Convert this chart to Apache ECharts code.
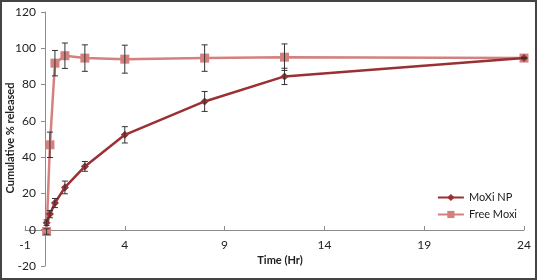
<!DOCTYPE html>
<html>
<head>
<meta charset="utf-8">
<script src="https://cdn.jsdelivr.net/npm/echarts@6/dist/echarts.min.js"></script>
<style>
  html, body { margin: 0; padding: 0; background: #fff; }
  #chart { width: 537px; height: 280px; }
</style>
</head>
<body>
<div id="chart"></div>
<script>
// time points (hr)
var timeHr = [0.083, 0.25, 0.5, 1, 2, 4, 8, 12, 24];
// MoXi NP
var moxiNP = [3.9, 8.6, 14.7, 23.3, 34.9, 52.3, 70.7, 84.5, 94.6];
var moxiNPErr = [1.5, 2, 2.5, 3.5, 2.7, 4.5, 5.5, 4.5, 0];
// Free Moxi
var freeMoxi = [-1, 46.8, 91.8, 95.9, 94.6, 94, 94.6, 95.1, 94.6];
var freeMoxiErr = [1.5, 7, 7, 7, 7.3, 7.7, 7.3, 7.3, 0];

var colNP = '#9a3034';
var colFree = '#d4807f';
var fontFam = 'Lato, "Liberation Sans", sans-serif';

const pairs = (xs, ys) => xs.map((x, i) => [x, ys[i]]);
const errData = (xs, ys, es) => xs.map((x, i) => [x, ys[i] - es[i], ys[i] + es[i]]);

// error bars, drawn as a custom series
const errRender = (params, api) => {
  const lo = api.coord([api.value(0), api.value(1)]);
  const hi = api.coord([api.value(0), api.value(2)]);
  const w = 3;
  const st = { stroke: '#333', lineWidth: 1 };
  return {
    type: 'group',
    children: [
      { type: 'line', shape: { x1: lo[0], y1: lo[1], x2: hi[0], y2: hi[1] }, style: st },
      { type: 'line', shape: { x1: lo[0] - w, y1: lo[1], x2: lo[0] + w, y2: lo[1] }, style: st },
      { type: 'line', shape: { x1: hi[0] - w, y1: hi[1], x2: hi[0] + w, y2: hi[1] }, style: st }
    ]
  };
};

var chart = echarts.init(document.getElementById('chart'), null, { renderer: 'canvas' });

chart.setOption({
  animation: false,
  textStyle: { fontFamily: fontFam },
  grid: { left: 25, right: 13, top: 12, bottom: 14, containLabel: false, outerBoundsMode: 'none' },
  graphic: [
    {
      type: 'rect',
      shape: { x: 1, y: 1, width: 535, height: 278 },
      style: { fill: 'none', stroke: '#444', lineWidth: 2 },
      silent: true
    },
    {
      type: 'text',
      x: 10, y: 138,
      rotation: Math.PI / 2,
      style: {
        text: 'Cumulative % released',
        font: 'bold 11px ' + fontFam,
        fill: '#222',
        align: 'center',
        verticalAlign: 'middle'
      }
    },
    {
      type: 'text',
      x: 280, y: 260,
      style: {
        text: 'Time (Hr)',
        font: 'bold 11px ' + fontFam,
        fill: '#222',
        align: 'center',
        verticalAlign: 'middle'
      }
    }
  ],
  legend: {
    orient: 'vertical',
    right: 15,
    top: 187,
    itemWidth: 26,
    itemHeight: 9,
    itemGap: 6,
    textStyle: { fontSize: 11, color: '#222', fontFamily: fontFam },
    data: ['MoXi NP', 'Free Moxi']
  },
  xAxis: {
    type: 'value',
    min: -1,
    max: 24,
    interval: 5,
    // horizontal axis sits at y = 0, about 36px above the grid bottom
    offset: -36,
    axisLine: { onZero: false, lineStyle: { color: '#8c8c8c', width: 1 } },
    axisTick: { inside: true, length: 4, lineStyle: { color: '#8c8c8c' } },
    axisLabel: { color: '#222', fontSize: 12, margin: 9 },
    splitLine: { show: false }
  },
  yAxis: {
    type: 'value',
    min: -20,
    max: 120,
    interval: 20,
    // vertical axis crosses at time 0, i.e. 20px right of the grid edge
    offset: -20,
    axisLine: { show: true, onZero: false, lineStyle: { color: '#8c8c8c', width: 1 } },
    axisTick: { show: true, length: 4, lineStyle: { color: '#8c8c8c' } },
    axisLabel: { color: '#222', fontSize: 12, margin: 9 },
    splitLine: { show: false }
  },
  series: [
    {
      name: 'MoXi NP',
      type: 'line',
      data: pairs(timeHr, moxiNP),
      symbol: 'diamond',
      symbolSize: 8,
      z: 3,
      itemStyle: { color: colNP },
      lineStyle: { color: colNP, width: 2.5 }
    },
    {
      name: 'Free Moxi',
      type: 'line',
      data: pairs(timeHr, freeMoxi),
      symbol: 'rect',
      symbolSize: 9,
      z: 2,
      itemStyle: { color: colFree },
      lineStyle: { color: colFree, width: 2.5 }
    },
    {
      type: 'custom',
      renderItem: errRender,
      data: errData(timeHr, moxiNP, moxiNPErr),
      z: 5,
      silent: true
    },
    {
      type: 'custom',
      renderItem: errRender,
      data: errData(timeHr, freeMoxi, freeMoxiErr),
      z: 5,
      silent: true
    }
  ]
});
</script>
</body>
</html>
